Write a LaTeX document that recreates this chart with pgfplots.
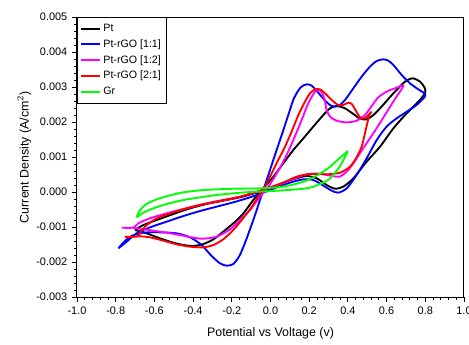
\documentclass[border=0pt]{standalone}
\usepackage{pgfplots}
\pgfplotsset{compat=1.18}
\usepackage{fontspec}
\setmainfont{Liberation Sans}
\definecolor{cvblack}{RGB}{0,0,0}
\definecolor{cvblue}{RGB}{0,0,255}
\definecolor{cvmag}{RGB}{255,0,255}
\definecolor{cvred}{RGB}{255,0,0}
\definecolor{cvgreen}{RGB}{0,255,0}
\begin{document}
\begin{tikzpicture}
\path[use as bounding box] (-57.75pt,-35.25pt) rectangle (294pt,222.75pt);
\begin{axis}[
  at={(0pt,0pt)}, anchor=south west,
  scale only axis,
  width=290.25pt, height=210pt,
  xmin=-1.0, xmax=1.0, ymin=-0.003, ymax=0.005,
  xtick={-1.0,-0.8,...,1.01},
  ytick={-0.003,-0.002,...,0.0051},
  minor x tick num=4, minor y tick num=4,
  tick align=outside,
  xtick pos=bottom, ytick pos=left,
  major tick length=3.75pt, minor tick length=2pt,
  axis line style={line width=0.75pt},
  every tick/.style={black, line width=0.6pt},
  scaled y ticks=false,
  /pgf/number format/assume math mode=true,
  xticklabel style={/pgf/number format/.cd, fixed, fixed zerofill, precision=1},
  yticklabel style={/pgf/number format/.cd, fixed, fixed zerofill, precision=3},
  tick label style={font=\fontsize{8.2}{9.8}\selectfont},
  label style={font=\fontsize{9.3}{11}\selectfont},
  xlabel={Potential vs Voltage (v)},
  ylabel={Current Density (A/cm$^{2}$)},
  xlabel shift=3pt,
  ylabel shift=-3pt,
  legend cell align=left,
  legend style={at={(0,1)}, anchor=north west, draw=black, line width=0.6pt,
    font=\fontsize{8}{9.6}\selectfont, row sep=0.6pt, inner xsep=2pt, inner ysep=3pt},
  legend image code/.code={\draw[#1, line width=1.5pt] (0pt,0pt) -- (14pt,0pt);},
  every axis plot/.append style={line width=1.4pt, smooth, tension=0.45},
]
% Pt
\addplot[cvblack] coordinates {
(-0.700,-0.001086) (-0.657,-0.000943) (-0.588,-0.000800) (-0.502,-0.000629) (-0.416,-0.000467)
(-0.330,-0.000343) (-0.244,-0.000248) (-0.158,-0.000152) (-0.071,-0.000019) (-0.003,0.000105)
(0.066,0.000267) (0.135,0.000390) (0.187,0.000457) (0.239,0.000390) (0.290,0.000200)
(0.333,0.000095) (0.376,0.000152) (0.428,0.000390) (0.497,0.000867) (0.566,0.001295)
(0.635,0.001819) (0.704,0.002248) (0.764,0.002581) (0.798,0.002819) (0.798,0.002962)
(0.773,0.003152) (0.735,0.003248) (0.695,0.003152) (0.635,0.002819) (0.574,0.002438)
(0.532,0.002200) (0.497,0.002076) (0.463,0.002095) (0.428,0.002229) (0.385,0.002390)
(0.342,0.002457) (0.308,0.002390) (0.273,0.002200) (0.221,0.001867) (0.170,0.001533)
(0.118,0.001200) (0.066,0.000819) (0.015,0.000438) (-0.037,0.000105) (-0.089,-0.000229)
(-0.140,-0.000610) (-0.192,-0.000895) (-0.244,-0.001133) (-0.295,-0.001352) (-0.347,-0.001486)
(-0.399,-0.001543) (-0.450,-0.001514) (-0.502,-0.001448) (-0.571,-0.001324) (-0.640,-0.001181)
(-0.700,-0.001086)
};
\addlegendentry{Pt}
% Pt-rGO [1:1]
\addplot[cvblue] coordinates {
(-0.786,-0.001610) (-0.743,-0.001419) (-0.692,-0.001181) (-0.623,-0.001010) (-0.537,-0.000848)
(-0.450,-0.000686) (-0.364,-0.000543) (-0.278,-0.000419) (-0.192,-0.000295) (-0.106,-0.000152)
(-0.037,-0.000019) (0.032,0.000133) (0.101,0.000267) (0.170,0.000362) (0.221,0.000343)
(0.273,0.000181) (0.316,0.000038) (0.350,-0.000019) (0.394,0.000105) (0.445,0.000486)
(0.497,0.000962) (0.549,0.001486) (0.600,0.001867) (0.652,0.002105) (0.704,0.002295)
(0.755,0.002486) (0.798,0.002724) (0.795,0.002819) (0.764,0.002933) (0.721,0.003105)
(0.678,0.003343) (0.635,0.003629) (0.609,0.003752) (0.583,0.003790) (0.549,0.003743)
(0.514,0.003581) (0.471,0.003295) (0.428,0.002962) (0.385,0.002629) (0.350,0.002457)
(0.316,0.002457) (0.282,0.002610) (0.247,0.002838) (0.213,0.003038) (0.187,0.003076)
(0.156,0.002990) (0.121,0.002676) (0.092,0.002200) (0.058,0.001629) (0.023,0.001057)
(-0.011,0.000486) (-0.046,-0.000086) (-0.080,-0.000657) (-0.123,-0.001324) (-0.158,-0.001800)
(-0.192,-0.002057) (-0.227,-0.002105) (-0.261,-0.002038) (-0.304,-0.001829) (-0.356,-0.001514)
(-0.416,-0.001295) (-0.485,-0.001181) (-0.571,-0.001152) (-0.657,-0.001162) (-0.718,-0.001257)
(-0.761,-0.001448) (-0.786,-0.001610)
};
\addlegendentry{Pt-rGO [1:1]}
% Pt-rGO [1:2]
\addplot[cvmag] coordinates {
(-0.769,-0.001019) (-0.709,-0.001019) (-0.683,-0.000895) (-0.623,-0.000752) (-0.537,-0.000610)
(-0.450,-0.000486) (-0.364,-0.000371) (-0.278,-0.000276) (-0.192,-0.000181) (-0.106,-0.000057)
(-0.037,0.000057) (0.032,0.000190) (0.118,0.000371) (0.187,0.000505) (0.256,0.000524)
(0.308,0.000467) (0.356,0.000438) (0.394,0.000581) (0.428,0.000819) (0.471,0.001181)
(0.514,0.001533) (0.557,0.001895) (0.600,0.002276) (0.643,0.002657) (0.686,0.003029)
(0.643,0.002962) (0.600,0.002867) (0.557,0.002705) (0.523,0.002457) (0.488,0.002200)
(0.445,0.002038) (0.394,0.001990) (0.342,0.002038) (0.308,0.002152) (0.290,0.002343)
(0.282,0.002581) (0.268,0.002819) (0.252,0.002914) (0.230,0.002867) (0.195,0.002533)
(0.161,0.002057) (0.118,0.001486) (0.075,0.000962) (0.032,0.000533) (-0.011,0.000152)
(-0.054,-0.000133) (-0.106,-0.000514) (-0.158,-0.000800) (-0.209,-0.001067) (-0.278,-0.001276)
(-0.347,-0.001333) (-0.399,-0.001305) (-0.468,-0.001229) (-0.537,-0.001162) (-0.606,-0.001105)
(-0.674,-0.001048) (-0.709,-0.001029)
};
\addlegendentry{Pt-rGO [1:2]}
% Pt-rGO [2:1]
\addplot[cvred] coordinates {
(-0.752,-0.001276) (-0.692,-0.001276) (-0.674,-0.001181) (-0.649,-0.000990) (-0.588,-0.000752)
(-0.502,-0.000581) (-0.416,-0.000438) (-0.330,-0.000324) (-0.244,-0.000229) (-0.158,-0.000133)
(-0.071,0.000010) (-0.003,0.000133) (0.066,0.000267) (0.135,0.000438) (0.204,0.000514)
(0.290,0.000505) (0.359,0.000552) (0.411,0.000724) (0.445,0.000990) (0.471,0.001295)
(0.488,0.001676) (0.500,0.001962) (0.511,0.002200) (0.523,0.002295) (0.511,0.002229)
(0.494,0.002133) (0.471,0.002095) (0.454,0.002200) (0.437,0.002362) (0.420,0.002514)
(0.402,0.002552) (0.376,0.002486) (0.350,0.002486) (0.316,0.002629) (0.282,0.002819)
(0.256,0.002933) (0.230,0.002933) (0.204,0.002819) (0.178,0.002581) (0.144,0.002200)
(0.109,0.001724) (0.075,0.001295) (0.040,0.000914) (0.006,0.000533) (-0.028,0.000152)
(-0.063,-0.000133) (-0.106,-0.000495) (-0.149,-0.000800) (-0.192,-0.001086) (-0.244,-0.001352)
(-0.295,-0.001514) (-0.347,-0.001581) (-0.416,-0.001562) (-0.485,-0.001495) (-0.554,-0.001390)
(-0.623,-0.001295) (-0.674,-0.001267) (-0.726,-0.001286) (-0.752,-0.001295)
};
\addlegendentry{Pt-rGO [2:1]}
% Gr
\addplot[cvgreen] coordinates {
(-0.692,-0.000724) (-0.674,-0.000514) (-0.640,-0.000343) (-0.588,-0.000210) (-0.519,-0.000095)
(-0.450,-0.000010) (-0.364,0.000048) (-0.278,0.000076) (-0.175,0.000095) (-0.054,0.000105)
(0.032,0.000133) (0.101,0.000190) (0.170,0.000295) (0.221,0.000419) (0.273,0.000581)
(0.308,0.000724) (0.350,0.000933) (0.397,0.001152) (0.385,0.001010) (0.363,0.000771)
(0.342,0.000610) (0.308,0.000390) (0.273,0.000267) (0.204,0.000124) (0.135,0.000076)
(0.066,0.000048) (-0.020,0.000019) (-0.106,0.000000) (-0.192,-0.000038) (-0.278,-0.000086)
(-0.364,-0.000152) (-0.450,-0.000229) (-0.537,-0.000343) (-0.606,-0.000467) (-0.657,-0.000590)
(-0.692,-0.000724)
};
\addlegendentry{Gr}
\end{axis}
\end{tikzpicture}
\end{document}
